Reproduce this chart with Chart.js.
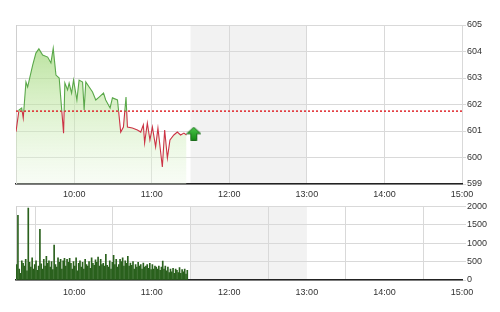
<!DOCTYPE html>
<html><head><meta charset="utf-8">
<script src="https://cdn.jsdelivr.net/npm/chart.js@4/dist/chart.umd.min.js"></script>
<style>
html,body{margin:0;padding:0;background:#fff;width:500px;height:312px;overflow:hidden}
#c1{position:absolute;left:0;top:0}
#c2{position:absolute;left:0;top:200px}
</style></head><body>
<canvas id="c1" width="500" height="200"></canvas>
<canvas id="c2" width="500" height="112"></canvas>
<script>
// minutes after 09:15
const priceTimes=[0,2.3,4.4,5.6,7.7,9,10.8,12.9,15.4,17.7,20.6,24.5,27,28.8,30.9,33.4,36.8,37.8,39.9,41.1,43,44.5,47.1,48.8,51.5,52.7,54,56.6,59.2,61.7,64.3,67.7,69.4,72.8,74.6,78.5,81,83.1,85.1,86.2,90,93.9,96.5,98.5,99.5,101.6,103.6,105.5,108,109.8,113.2,115,117.1,119.1,122.1,124.8,127.3,129.9,131.9];
const priceValues=[600.97,601.79,601.87,601.49,602.85,602.66,603.04,603.49,603.94,604.1,603.87,603.79,603.57,604.12,603.11,603.0,600.92,602.81,602.55,602.81,602.43,602.92,602.17,602.92,602.85,601.79,602.85,602.66,602.47,602.17,602.28,602.43,602.17,601.87,602.25,602.17,600.96,601.15,602.28,601.15,601.11,601.04,600.96,601.23,600.55,601.30,600.66,601.15,600.40,601.11,599.64,601.04,599.98,600.66,600.85,600.96,600.85,600.92,600.85];
const refPrice=601.75;
const arrowPoint={t:137.5,v:600.9};
const volumeValues=[420,1760,300,180,520,450,380,560,250,1955,
480,350,600,300,420,520,260,380,1380,440,
300,560,380,640,450,520,350,500,280,950,
420,350,600,480,560,300,520,590,380,560,
480,590,450,300,500,380,600,250,450,520,
350,480,300,560,420,380,500,320,600,450,
400,550,480,620,380,560,420,450,380,700,
400,350,520,300,480,670,420,560,350,420,
560,500,600,380,520,450,640,380,460,400,
500,300,420,350,480,380,420,300,460,350,
380,420,320,450,280,420,300,380,350,300,
380,260,350,515,300,380,250,350,200,300,
220,320,180,300,260,200,340,180,280,220,
300,160,260];
const timeTicks=[45,105,165,225,285,345];
const timeTickLabels=['10:00','11:00','12:00','13:00','14:00','15:00'];
const priceTicks=[599,600,601,602,603,604,605];
const volumeTicks=[0,500,1000,1500,2000];
const breakStart=135, breakEnd=225;

const GREEN='#5aa84a', RED='#cc3345', GRID='#d9d9d9', TXT='#333';
const FONT={family:'Liberation Sans, Arial, sans-serif',size:9};

const shadePlugin={
  id:'shade',
  beforeDraw(chart){
    const {ctx,chartArea:a,scales:{x}}=chart;
    const x0=x.getPixelForValue(breakStart), x1=x.getPixelForValue(breakEnd);
    ctx.save();
    ctx.fillStyle='#f2f2f2';
    ctx.fillRect(x0,a.top,x1-x0,a.bottom-a.top);
    ctx.restore();
  },
  beforeDatasetsDraw(chart){
    const {ctx,chartArea:a}=chart;
    ctx.save();
    ctx.strokeStyle='#cfcfcf';ctx.lineWidth=1;
    ctx.beginPath();ctx.moveTo(a.left+0.5,a.top);ctx.lineTo(a.left+0.5,a.bottom);ctx.stroke();
    ctx.restore();
  }
};

const clipPlugin={
  id:'clipper',
  beforeDatasetDraw(chart,args){
    const ds=chart.data.datasets[args.index];
    if(!ds.clipSide) return;
    const {ctx,scales:{y}}=chart;
    const ry=y.getPixelForValue(refPrice);
    ctx.save();
    ctx.beginPath();
    if(ds.clipSide==='above') ctx.rect(0,0,chart.width,ry);
    else ctx.rect(0,ry,chart.width,chart.height-ry);
    ctx.clip();
  },
  afterDatasetDraw(chart,args){
    const ds=chart.data.datasets[args.index];
    if(!ds.clipSide) return;
    chart.ctx.restore();
  }
};

function arrowImg(){
  const c=document.createElement('canvas');c.width=15;c.height=14;
  const g=c.getContext('2d');
  g.beginPath();
  g.moveTo(7.5,0.5);g.lineTo(14.5,7);g.lineTo(10.5,7);g.lineTo(10.5,13.5);
  g.lineTo(4.5,13.5);g.lineTo(4.5,7);g.lineTo(0.5,7);g.closePath();
  const gr=g.createLinearGradient(0,0,0,14);
  gr.addColorStop(0,'#4cc84c');gr.addColorStop(1,'#138a13');
  g.fillStyle=gr;g.fill();
  g.strokeStyle='#1d6e1d';g.lineWidth=1;g.stroke();
  return c;
}

const pricePts=priceTimes.map((t,i)=>({x:t,y:priceValues[i]}));

function timeX(pad,h){
  return {
    type:'linear',min:0,max:345,offset:false,
    afterBuildTicks:s=>{s.ticks=timeTicks.map(v=>({value:v}));},
    ticks:{callback:v=>timeTickLabels[timeTicks.indexOf(v)]||'',font:FONT,color:TXT,maxRotation:0,autoSkip:false,padding:pad},
    grid:{color:GRID,drawTicks:false},
    border:{color:'#222',width:1.5},
    afterFit:s=>{s.height=h;}
  };
}
function valueY(min,max,ticks){
  return {position:'right',min:min,max:max,
    afterBuildTicks:s=>{s.ticks=ticks.map(v=>({value:v}));},
    ticks:{font:FONT,color:TXT,padding:1,callback:v=>String(v)},
    grid:{color:GRID,tickLength:4},
    border:{display:false},
    afterFit:s=>{s.width=38;}};
}

new Chart(document.getElementById('c1'),{
  type:'line',
  data:{datasets:[
    {data:pricePts,borderWidth:0,pointRadius:0,tension:0,order:10,
     fill:'start',
     backgroundColor:(ctx)=>{
       const a=ctx.chart.chartArea; if(!a) return 'rgba(170,220,140,0.5)';
       const g=ctx.chart.ctx.createLinearGradient(0,a.top,0,a.bottom);
       g.addColorStop(0,'rgba(150,210,110,0.8)');
       g.addColorStop(0.5,'rgba(190,230,160,0.55)');
       g.addColorStop(1,'rgba(235,248,228,0.35)');
       return g;
     }},
    {data:[{x:0,y:refPrice},{x:345,y:refPrice}],borderColor:'#e0262b',borderWidth:1.5,borderDash:[2,2],pointRadius:0,fill:false,order:8},
    {data:pricePts,borderColor:GREEN,borderWidth:1.1,pointRadius:0,tension:0,fill:false,clipSide:'above',order:3},
    {data:pricePts,borderColor:RED,borderWidth:1.1,pointRadius:0,tension:0,fill:false,clipSide:'below',order:3},
    {data:[{x:arrowPoint.t,y:arrowPoint.v}],pointStyle:arrowImg(),pointRadius:7,showLine:false,order:1}
  ]},
  options:{
    responsive:false,animation:false,devicePixelRatio:1,
    layout:{padding:{left:16,top:25,right:0,bottom:0}},
    plugins:{legend:{display:false},tooltip:{enabled:false}},
    scales:{x:timeX(5,16),y:valueY(599,605,priceTicks)}
  },
  plugins:[shadePlugin,clipPlugin]
});

new Chart(document.getElementById('c2'),{
  type:'bar',
  data:{datasets:[{data:volumeValues.map((v,i)=>({x:i+0.5,y:v})),backgroundColor:'#2a611d',barThickness:1,grouped:false}]},
  options:{
    responsive:false,animation:false,devicePixelRatio:1,
    layout:{padding:{left:16,top:5,right:0,bottom:0}},
    plugins:{legend:{display:false},tooltip:{enabled:false}},
    scales:{x:timeX(7,32),y:valueY(0,2000,volumeTicks)}
  },
  plugins:[shadePlugin]
});
</script>
</body></html>
